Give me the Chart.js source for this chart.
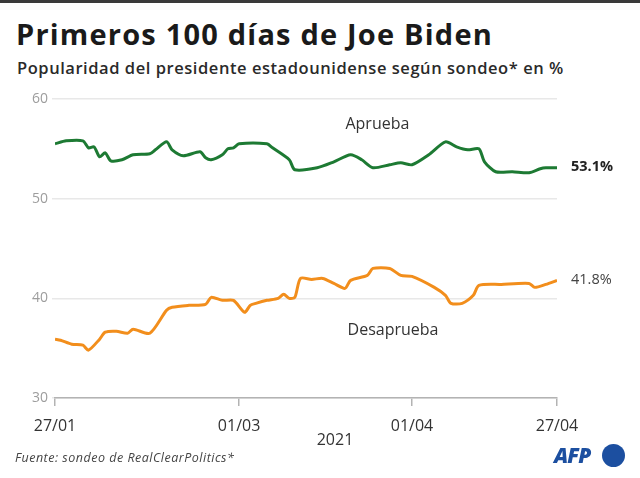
<!DOCTYPE html>
<html>
<head>
<meta charset="utf-8">
<script src="https://cdn.jsdelivr.net/npm/chart.js@4/dist/chart.umd.min.js"></script>
<style>
  html, body { margin:0; padding:0; background:#fff; }
  #wrap { position:relative; width:640px; height:478px; overflow:hidden; background:#fff; font-family:"Open Sans", "Noto Sans", sans-serif; }
  #topbar { position:absolute; left:0; top:0; width:640px; height:3px; background:#3a3a3a; }
  #title { position:absolute; left:16px; top:19px; font-size:29px; font-weight:700; color:#1a1a1a; line-height:1; white-space:nowrap; letter-spacing:1.2px; }
  #subtitle { position:absolute; left:17px; top:60px; font-size:16.5px; font-weight:600; color:#2a2a2a; line-height:1; white-space:nowrap; letter-spacing:0.55px; }
  #source { position:absolute; left:15px; top:452px; font-size:12.5px; font-style:italic; color:#444; line-height:1; white-space:nowrap; letter-spacing:0.5px; }
  #afp { position:absolute; left:554px; top:445px; font-size:21px; font-weight:800; font-style:italic; color:#1c4fa0; line-height:1; letter-spacing:-1px; }
  #dot { position:absolute; left:602px; top:444px; width:23px; height:23px; border-radius:50%; background:#1c4fa0; }
  canvas { position:absolute; left:0; top:0; }
</style>
</head>
<body>
<div id="wrap">
  <div id="topbar"></div>
  <div id="title">Primeros 100 días de Joe Biden</div>
  <div id="subtitle">Popularidad del presidente estadounidense según sondeo* en %</div>
  <canvas id="c" width="640" height="478"></canvas>
  <div id="source">Fuente: sondeo de RealClearPolitics*</div>
  <div id="afp">AFP</div>
  <div id="dot"></div>
</div>
<script>
// Day index since 27/01/2021
const approveDays   = [0, 2, 5, 6, 7, 8, 9, 10, 12, 14, 17, 18, 20, 21, 23, 26, 27, 28, 30, 31, 32, 33, 38, 39, 42, 43, 47, 50, 53, 55, 57, 60, 62, 64, 67, 70, 72, 74, 76, 77, 79, 82, 85, 87, 88, 90];
const approveValues = [55.5, 55.8, 55.8, 55.1, 55.2, 54.2, 54.6, 53.8, 53.9, 54.4, 54.5, 54.9, 55.7, 54.9, 54.3, 54.7, 54.1, 53.9, 54.4, 55.0, 55.1, 55.5, 55.5, 55.1, 53.9, 52.9, 53.1, 53.7, 54.4, 53.9, 53.1, 53.4, 53.6, 53.4, 54.4, 55.7, 55.2, 54.9, 55.0, 53.7, 52.7, 52.7, 52.6, 53.0, 53.1, 53.1];

const disapproveDays   = [0, 1, 3, 5, 6, 8, 9, 11, 13, 14, 17, 20, 21, 24, 27, 28, 30, 32, 34, 35, 36, 38, 40, 41, 42, 43, 44, 46, 48, 50, 52, 53, 56, 57, 60, 62, 64, 68, 70, 71, 73, 75, 76, 80, 85, 86, 88, 90];
const disapproveValues = [35.9, 35.8, 35.4, 35.3, 34.8, 35.9, 36.6, 36.7, 36.5, 36.9, 36.5, 38.8, 39.1, 39.3, 39.4, 40.1, 39.8, 39.8, 38.6, 39.3, 39.5, 39.8, 40.0, 40.4, 40.0, 40.1, 42.0, 41.9, 42.0, 41.5, 41.0, 41.8, 42.3, 43.0, 43.0, 42.3, 42.2, 41.1, 40.3, 39.5, 39.5, 40.3, 41.3, 41.4, 41.5, 41.1, 41.4, 41.8];

const xTickDays   = [0, 33, 64, 90];
const xTickLabels = ['27/01', '01/03', '01/04', '27/04'];
const yTicks      = [30, 40, 50, 60];
const seriesNames = ['Aprueba', 'Desaprueba'];
const lastLabels  = ['53.1%', '41.8%'];
const yearLabel   = '2021';

const toPts = (d, v) => d.map((x, i) => ({ x: x, y: v[i] }));

const labelsPlugin = {
  id: 'labels',
  afterDraw(chart) {
    const { ctx, scales: { x, y }, chartArea } = chart;
    ctx.save();
    ctx.fillStyle = '#333';
    ctx.textAlign = 'center';
    ctx.textBaseline = 'middle';
    ctx.font = '16px "Open Sans", "Noto Sans", sans-serif';
    ctx.fillText(seriesNames[0], x.getPixelForValue(57.8), y.getPixelForValue(57.4));
    ctx.fillText(seriesNames[1], x.getPixelForValue(60.6), y.getPixelForValue(36.8));
    ctx.textAlign = 'left';
    ctx.fillStyle = '#222';
    ctx.font = 'bold 14.5px "Open Sans", "Noto Sans", sans-serif';
    const lx = x.getPixelForValue(90) + 14;
    ctx.fillText(lastLabels[0], lx, y.getPixelForValue(approveValues[approveValues.length - 1]) - 1);
    ctx.font = '14.5px "Open Sans", "Noto Sans", sans-serif';
    ctx.fillStyle = '#444';
    ctx.fillText(lastLabels[1], lx, y.getPixelForValue(disapproveValues[disapproveValues.length - 1]) - 1);
    ctx.textAlign = 'center';
    ctx.fillStyle = '#333';
    ctx.font = '16px "Open Sans", "Noto Sans", sans-serif';
    ctx.fillText(yearLabel, x.getPixelForValue(50.2), chartArea.bottom + 42);
    ctx.restore();
  }
};

new Chart(document.getElementById('c'), {
  type: 'line',
  data: {
    datasets: [
      { label: seriesNames[0], data: toPts(approveDays, approveValues), borderColor: '#1d7a33', borderWidth: 3, pointRadius: 0, tension: 0.25, fill: false },
      { label: seriesNames[1], data: toPts(disapproveDays, disapproveValues), borderColor: '#f28e1c', borderWidth: 3, pointRadius: 0, tension: 0.25, fill: false }
    ]
  },
  options: {
    responsive: false,
    animation: false,
    events: [],
    layout: { padding: { left: 0, right: 83, top: 99, bottom: 0 } },
    plugins: { legend: { display: false }, tooltip: { enabled: false }, title: { display: false } },
    scales: {
      x: {
        type: 'linear', min: 0, max: 90,
        afterBuildTicks(s) { s.ticks = xTickDays.map(v => ({ value: v })); },
        afterFit(s) { s.height = 80; },
        ticks: {
          autoSkip: false, maxRotation: 0, padding: 11, color: '#333',
          font: { family: '"Open Sans", "Noto Sans", sans-serif', size: 16 },
          callback: (v) => { const i = xTickDays.indexOf(v); return i >= 0 ? xTickLabels[i] : ''; }
        },
        grid: { drawOnChartArea: false, drawTicks: true, tickLength: 8, color: '#b3b3b3', lineWidth: 1.5 },
        border: { display: true, color: '#b3b3b3', width: 1.5 }
      },
      y: {
        min: 30, max: 60,
        afterBuildTicks(s) { s.ticks = yTicks.map(v => ({ value: v })); },
        afterFit(s) { s.width = 55; },
        ticks: { padding: 4, color: '#9d9d9d', font: { family: '"Open Sans", "Noto Sans", sans-serif', size: 14 } },
        grid: { color: '#e8e8e8', lineWidth: 1.5, drawTicks: true, tickLength: 3 },
        border: { display: false }
      }
    }
  },
  plugins: [labelsPlugin]
});
</script>
</body>
</html>
